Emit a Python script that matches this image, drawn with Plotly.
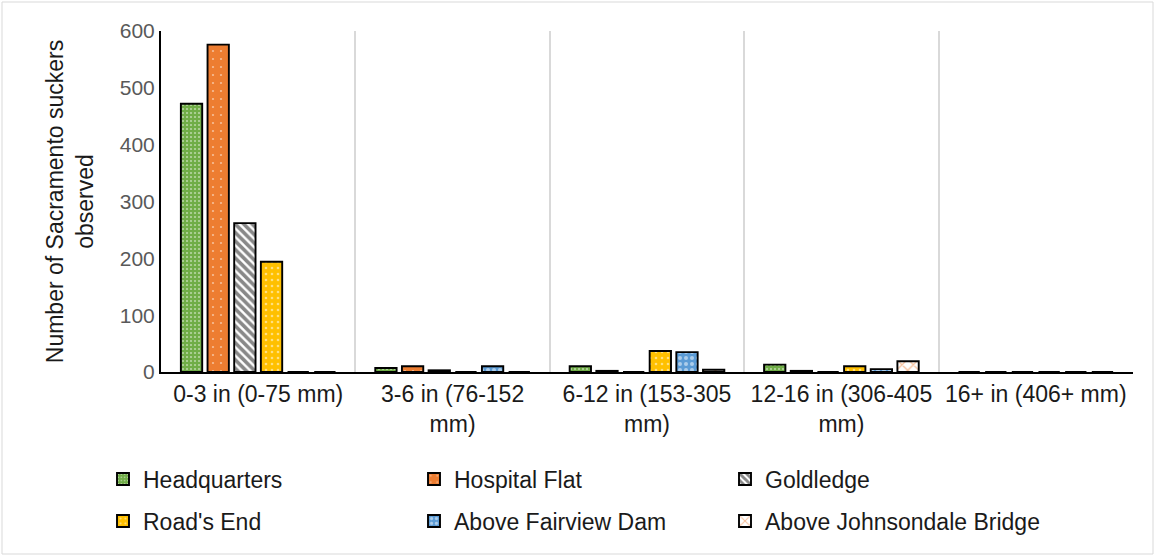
import plotly.graph_objects as go

categories = ["0-3 in (0-75 mm)", "3-6 in (76-152<br>mm)", "6-12 in (153-305<br>mm)",
              "12-16 in (306-405<br>mm)", "16+ in (406+ mm)"]

headquarters = [472, 7, 10, 13, 0]
hospital_flat = [576, 10, 2, 2, 0]
goldledge = [262, 3, 0, 0, 0]
roads_end = [194, 0, 37, 10, 0]
above_fairview = [0, 10, 35, 5, 0]
above_johnsondale = [0, 0, 4, 19, 0]

series = [
    ("Headquarters", headquarters, "#70AD47", "white", ".", 4, 0.22),
    ("Hospital Flat", hospital_flat, "#ED7D31", "white", ".", 8, 0.06),
    ("Goldledge", goldledge, "white", "#111111", "\\", 6, 0.6),
    ("Road's End", roads_end, "#FFC000", "white", ".", 6, 0.15),
    ("Above Fairview Dam", above_fairview, "#5B9BD5", "white", ".", 6, 0.35),
    ("Above Johnsondale Bridge", above_johnsondale, "white", "#ED7D31", "x", 8, 0.3),
]

W, H = 1156, 556
L, R, T, B = 161, 23, 31, 184
pw, ph = W - L - R, H - T - B

def px(x):
    return (x - L) / pw

def py(y):
    return (H - B - y) / ph

# legend entry text start (x) and row centre (y), in pixels
legend_slots = [(143, 479), (454, 479), (765, 479), (143, 521), (454, 521), (765, 521)]

font_family = "Liberation Sans, Arial, sans-serif"

fig = go.Figure()
legend_layout = {}
for i, (name, vals, bg, fg, shape, size, sol) in enumerate(series):
    key = "legend" if i == 0 else f"legend{i + 1}"
    fig.add_trace(go.Bar(
        name=name, x=categories, y=vals, legend=key, showlegend=True,
        marker=dict(color=bg, line=dict(color="black", width=1.9),
                    pattern=dict(shape=shape, fgcolor=fg, bgcolor=bg, size=size,
                                 solidity=sol, fillmode="overlay")),
    ))
    tx, ty = legend_slots[i]
    legend_layout[key] = dict(
        x=px(tx - 40), y=py(ty), xanchor="left", yanchor="middle",
        font=dict(family=font_family, size=23, color="#1a1a1a"),
        bgcolor="rgba(0,0,0,0)", itemclick=False,
    )

fig.update_layout(
    width=W, height=H, showlegend=True,
    margin=dict(l=L, r=R, t=T, b=B, autoexpand=False),
    paper_bgcolor="white", plot_bgcolor="white",
    barmode="group", bargap=0.177, bargroupgap=0.2,
    font=dict(family=font_family, size=22, color="#1a1a1a"),
    xaxis=dict(
        tickson="boundaries", showgrid=True, gridcolor="#D9D9D9", gridwidth=1.5,
        showline=True, linecolor="black", linewidth=2, ticks="",
        tickfont=dict(family=font_family, size=23, color="#1a1a1a"),
        automargin=False,
    ),
    yaxis=dict(
        range=[0, 600], dtick=100, showgrid=False, zeroline=False,
        showline=True, linecolor="black", linewidth=2, ticks="",
        tickfont=dict(family=font_family, size=21, color="#595959"),
        title=dict(text="Number of Sacramento suckers<br>observed",
                   font=dict(family=font_family, size=23, color="#1a1a1a"),
                   standoff=20),
        automargin=False,
    ),
    shapes=[dict(type="rect", xref="paper", yref="paper",
                 x0=px(2), x1=px(1153), y0=py(554), y1=py(2),
                 line=dict(color="#D9D9D9", width=1), layer="below")],
    **legend_layout,
)

fig.write_html("out.html", config={"displayModeBar": False},
               post_script="document.body.style.margin='0';")
